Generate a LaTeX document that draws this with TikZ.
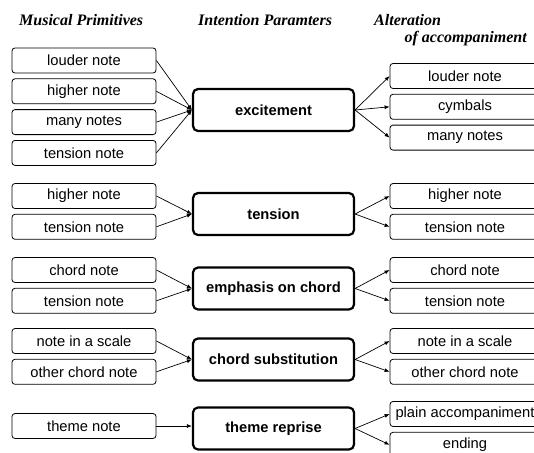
\documentclass[tikz,border=0pt]{standalone}
\usepackage{fontspec}
\setmainfont{Liberation Serif}
\setsansfont{Liberation Sans}
\usetikzlibrary{positioning,arrows.meta}

\tikzset{
  prim/.style={draw, rounded corners=3pt, line width=0.8pt,
    minimum width=144pt, minimum height=25pt, inner sep=0pt,
    font=\sffamily\fontsize{14.7}{17}\selectfont},
  alter/.style={prim, minimum width=150pt},
  intent/.style={draw, rounded corners=5pt, line width=2.2pt,
    minimum width=161pt, minimum height=42pt, inner sep=0pt,
    font=\sffamily\bfseries\fontsize{14.7}{17}\selectfont},
  head/.style={anchor=base west, inner sep=0pt,
    font=\bfseries\itshape\fontsize{16}{19}\selectfont},
  link/.style={-{Latex[length=5pt,width=4pt]}, line width=0.7pt},
}

\begin{document}
\begin{tikzpicture}[x=1pt, y=-1pt]
    % fix the page size, the right column runs off the edge
    \useasboundingbox (0,0) rectangle (534,452);
    \clip (0,0) rectangle (534,452);

    % column headings
    \node[head] (hprim) at (19,26) {Musical Primitives};
    \node[head] (hint) at (198,26) {Intention Paramters};
    \node[head] (halt) at (374,26) {Alteration};
    \node[head, anchor=base east] (hacc) at (527,42.5) {of accompaniment};

    % excitement
    \node[intent] (exc) at (273.5,110) {excitement};
    \node[prim] (p1) at (84,60.5) {louder note};
    \node[prim, below=5pt of p1] (p2) {higher note};
    \node[prim, below=5pt of p2] (p3) {many notes};
    \node[prim, below=5pt of p3] (p4) {tension note};
    \node[alter] (a1) at (465,76) {louder note};
    \node[alter, below=5pt of a1] (a2) {cymbals};
    \node[alter, below=5pt of a2] (a3) {many notes};

    % tension
    \node[intent] (ten) at (273.5,214) {tension};
    \node[prim] (p5) at (84,196) {higher note};
    \node[prim, below=5pt of p5] (p6) {tension note};
    \node[alter] (a4) at (465,196) {higher note};
    \node[alter, below=5pt of a4] (a5) {tension note};

    % emphasis on chord
    \node[intent] (emp) at (273.5,288.5) {emphasis on chord};
    \node[prim] (p7) at (84,270) {chord note};
    \node[prim, below=5pt of p7] (p8) {tension note};
    \node[alter] (a6) at (465,270) {chord note};
    \node[alter, below=5pt of a6] (a7) {tension note};

    % chord substitution
    \node[intent] (sub) at (273.5,359.5) {chord substitution};
    \node[prim] (p9) at (84,341) {note in a scale};
    \node[prim, below=5pt of p9] (p10) {other chord note};
    \node[alter] (a8) at (465,341) {note in a scale};
    \node[alter, below=5pt of a8] (a9) {other chord note};

    % theme reprise
    \node[intent] (rep) at (273.5,428.5) {theme reprise};
    \node[prim] (p11) at (84,426) {theme note};
    \node[alter] (a10) at (465,414) {plain accompaniment};
    \node[alter, below=5pt of a10] (a11) {ending};

    % primitives into intentions
    \draw[link] (p1.east) -- (exc.west);
    \draw[link] (p2.east) -- (exc.west);
    \draw[link] (p3.east) -- (exc.west);
    \draw[link] (p4.east) -- (exc.west);
    \draw[link] (p5.east) -- (ten.west);
    \draw[link] (p6.east) -- (ten.west);
    \draw[link] (p7.east) -- (emp.west);
    \draw[link] (p8.east) -- (emp.west);
    \draw[link] (p9.east) -- (sub.west);
    \draw[link] (p10.east) -- (sub.west);
    \draw[link] (p11.east) -- (rep.west |- p11.east);

    % intentions into alterations
    \draw[link] (exc.east) -- (a1.west);
    \draw[link] (exc.east) -- (a2.west);
    \draw[link] (exc.east) -- (a3.west);
    \draw[link] (ten.east) -- (a4.west);
    \draw[link] (ten.east) -- (a5.west);
    \draw[link] (emp.east) -- (a6.west);
    \draw[link] (emp.east) -- (a7.west);
    \draw[link] (sub.east) -- (a8.west);
    \draw[link] (sub.east) -- (a9.west);
    \draw[link] (rep.east) -- (a10.west);
    \draw[link] (rep.east) -- (a11.west);
\end{tikzpicture}
\end{document}
